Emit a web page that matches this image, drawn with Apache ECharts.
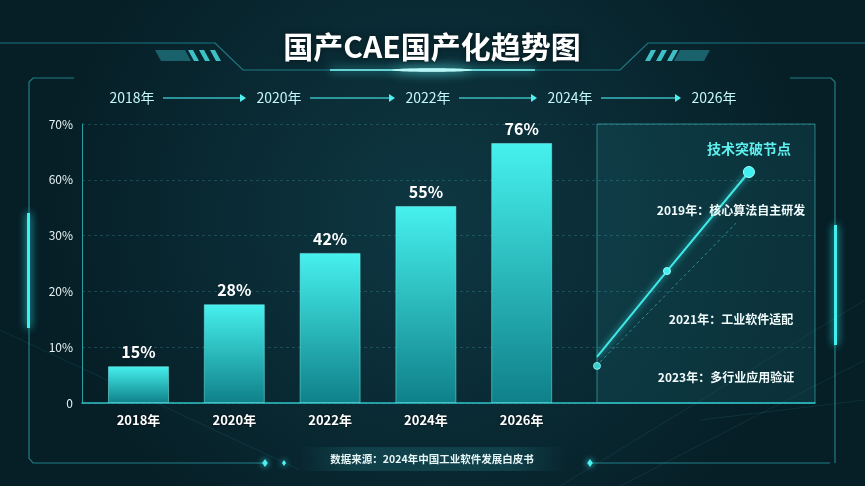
<!DOCTYPE html>
<html>
<head>
<meta charset="utf-8">
<script src="https://cdn.jsdelivr.net/npm/echarts/dist/echarts.min.js"></script>
<style>
html,body{margin:0;padding:0;background:#082a33;}
#c{width:865px;height:486px;}
</style>
</head>
<body>
<div id="c"></div>
<script>
// ---- data ----
const titleText = '国产CAE国产化趋势图';
const categories = ['2018年', '2020年', '2022年', '2024年', '2026年'];
const barLabels = ['15%', '28%', '42%', '55%', '76%'];
// bar heights as drawn, measured in y-axis tick steps
const barHeights = [0.66, 1.77, 2.69, 3.53, 4.66];
const yTickLabels = ['0', '10%', '20%', '30%', '60%', '70%'];
const timelineYears = ['2018年', '2020年', '2022年', '2024年', '2026年'];
const milestoneTitle = '技术突破节点';
const milestones = ['2019年：核心算法自主研发', '2021年：工业软件适配', '2023年：多行业应用验证'];
// milestone trend line in panel units (0-100)
const milestoneLine = [[0, 16.5], [32.1, 47.3], [69.7, 82.8]];
const milestoneDash = [[1.4, 14.7], [63.8, 64.5]];
const milestoneStart = [[0, 13.3]];
const sourceText = '数据来源：2024年中国工业软件发展白皮书';

const FONT = '"Noto Sans CJK SC", "Noto Sans", sans-serif';
const chart = echarts.init(document.getElementById('c'), null, {renderer: 'canvas'});

const graphics = [];

// background beams
[[[560, 486], [865, 300]], [[620, 486], [865, 360]], [[0, 330], [300, 470]], [[700, 420], [865, 400]]].forEach(p => {
  graphics.push({type: 'polyline', shape: {points: p}, style: {stroke: 'rgba(80,220,230,0.10)', lineWidth: 1}, z: -5});
});

// title frame
graphics.push({type: 'polyline', shape: {points: [[0, 43], [215, 43], [243, 70], [620, 70], [648, 43], [865, 43]]},
  style: {stroke: 'rgba(50,190,200,0.55)', lineWidth: 1.2}});
graphics.push({type: 'polyline', shape: {points: [[330, 70], [535, 70]]},
  style: {stroke: '#7ff6f6', lineWidth: 1.5, shadowBlur: 10, shadowColor: '#5ff'}});
graphics.push({type: 'ellipse', shape: {cx: 432, cy: 70, rx: 40, ry: 2}, style: {fill: 'rgba(200,255,255,0.8)', shadowBlur: 12, shadowColor: '#6ff'}});
// stripes left
graphics.push({type: 'polygon', shape: {points: [[155, 50], [185, 50], [191, 61], [161, 61]]}, style: {fill: 'rgba(40,150,160,0.55)'}});
[0, 1, 2].forEach(i => {
  const x = 188 + i * 11;
  graphics.push({type: 'polygon', shape: {points: [[x, 50], [x + 5, 50], [x + 11, 61], [x + 6, 61]]}, style: {fill: 'rgba(70,220,225,0.85)'}});
});
// stripes right
[0, 1, 2].forEach(i => {
  const x = 645 + i * 11;
  graphics.push({type: 'polygon', shape: {points: [[x + 6, 50], [x + 11, 50], [x + 5, 61], [x, 61]]}, style: {fill: 'rgba(70,220,225,0.85)'}});
});
graphics.push({type: 'polygon', shape: {points: [[680, 50], [710, 50], [704, 61], [674, 61]]}, style: {fill: 'rgba(40,150,160,0.55)'}});

graphics.push({type: 'text', style: {text: titleText, x: 432, y: 47, fill: '#ffffff', fontSize: 30, fontWeight: 'bold',
  fontFamily: FONT, align: 'center', verticalAlign: 'middle', textShadowBlur: 6, textShadowColor: 'rgba(0,0,0,0.5)'}});

// outer frame
graphics.push({type: 'polyline', shape: {points: [[74, 78], [33, 78], [29, 82], [29, 458], [33, 463], [265, 463]]},
  style: {stroke: 'rgba(50,190,200,0.6)', lineWidth: 1.2}});
graphics.push({type: 'polyline', shape: {points: [[790, 78], [831, 78], [835, 82], [835, 463]]},
  style: {stroke: 'rgba(50,190,200,0.6)', lineWidth: 1.2}});
graphics.push({type: 'polyline', shape: {points: [[590, 463], [830, 463]]},
  style: {stroke: 'rgba(50,190,200,0.6)', lineWidth: 1.2}});
graphics.push({type: 'rect', shape: {x: 27, y: 213, width: 3, height: 115}, style: {fill: '#3ff0f0', shadowBlur: 8, shadowColor: '#3ff'}});
graphics.push({type: 'rect', shape: {x: 834, y: 225, width: 3, height: 120}, style: {fill: '#3ff0f0', shadowBlur: 8, shadowColor: '#3ff'}});
[[265, 463, 4], [284, 463, 3], [590, 463, 4]].forEach(d => {
  graphics.push({type: 'polygon', shape: {points: [[d[0], d[1] - d[2]], [d[0] + d[2] * 0.7, d[1]], [d[0], d[1] + d[2]], [d[0] - d[2] * 0.7, d[1]]]},
    style: {fill: '#4ff2f2', shadowBlur: 6, shadowColor: '#4ff'}});
});

// timeline
const tlX = [132, 279, 428, 570, 714];
timelineYears.forEach((t, i) => {
  graphics.push({type: 'text', style: {text: t, x: tlX[i], y: 98, fill: '#c4f7f7', fontSize: 14, fontFamily: FONT,
    align: 'center', verticalAlign: 'middle'}});
  if (i < timelineYears.length - 1) {
    const x1 = tlX[i] + 31, x2 = tlX[i + 1] - 33;
    graphics.push({type: 'polyline', shape: {points: [[x1, 98], [x2 - 4, 98]]}, style: {stroke: 'rgba(70,220,225,0.8)', lineWidth: 1.3}});
    graphics.push({type: 'polygon', shape: {points: [[x2 - 6, 94], [x2, 98], [x2 - 6, 102]]}, style: {fill: '#4ff0f0'}});
  }
});

// right panel
graphics.push({type: 'rect', shape: {x: 597, y: 124, width: 218, height: 279},
  style: {fill: 'rgba(25,100,110,0.28)', stroke: 'rgba(70,210,210,0.55)', lineWidth: 1}, z: -1});
graphics.push({type: 'text', style: {text: milestoneTitle, x: 749, y: 149, fill: '#5ef0ee', fontSize: 14, fontWeight: 'bold',
  fontFamily: FONT, align: 'center', verticalAlign: 'middle'}});
const msPos = [[731, 210], [731, 319], [726, 377]];
milestones.forEach((m, i) => {
  graphics.push({type: 'text', z: 10, style: {text: m, x: msPos[i][0], y: msPos[i][1], fill: '#f0fbfb', fontSize: 12,
    fontWeight: 'bold', fontFamily: FONT, align: 'center', verticalAlign: 'middle'}});
});

// footer
graphics.push({type: 'rect', shape: {x: 300, y: 447, width: 264, height: 24},
  style: {fill: {type: 'linear', x: 0, y: 0, x2: 1, y2: 0, colorStops: [
    {offset: 0, color: 'rgba(30,110,120,0)'}, {offset: 0.2, color: 'rgba(30,110,120,0.35)'},
    {offset: 0.8, color: 'rgba(30,110,120,0.35)'}, {offset: 1, color: 'rgba(30,110,120,0)'}]}}});
graphics.push({type: 'text', style: {text: sourceText, x: 432, y: 459, fill: '#e6f6f6', fontSize: 10.5, fontWeight: 'bold',
  fontFamily: FONT, align: 'center', verticalAlign: 'middle'}});

const option = {
  backgroundColor: {type: 'radial', x: 0.5, y: 0.45, r: 0.8, colorStops: [
    {offset: 0, color: '#0e3843'}, {offset: 1, color: '#061e26'}]},
  animation: false,
  textStyle: {fontFamily: FONT},
  grid: [
    {left: 82, right: 50, top: 124, bottom: 83},
    {left: 90.6, width: 479, top: 124, bottom: 83},
    {left: 597, right: 50, top: 124, bottom: 83}
  ],
  xAxis: [
    {gridIndex: 0, type: 'value', min: 0, max: 1, axisLabel: {show: false}, axisTick: {show: false}, splitLine: {show: false},
      axisLine: {show: true, lineStyle: {color: '#2fc2c8', width: 1.5}}},
    {gridIndex: 1, type: 'category', data: categories, axisLine: {show: false}, axisTick: {show: false},
      axisLabel: {color: '#ffffff', fontSize: 13, fontWeight: 'bold', margin: 11, fontFamily: FONT,
        textShadowBlur: 3, textShadowColor: 'rgba(0,0,0,0.6)'}},
    {gridIndex: 2, type: 'value', min: 0, max: 100, show: false}
  ],
  yAxis: [
    {gridIndex: 0, type: 'value', min: 0, max: 5, interval: 1,
      axisLabel: {color: '#e6f3f3', fontSize: 12, margin: 9, formatter: v => yTickLabels[v] ?? ''},
      axisLine: {show: true, lineStyle: {color: '#2a9ea5', width: 1}}, axisTick: {show: false},
      splitLine: {show: true, lineStyle: {color: 'rgba(80,170,180,0.28)', type: [3, 3]}}},
    {gridIndex: 1, type: 'value', min: 0, max: 5, show: false},
    {gridIndex: 2, type: 'value', min: 0, max: 100, show: false}
  ],
  series: [
    {type: 'bar', xAxisIndex: 1, yAxisIndex: 1, data: barHeights, barWidth: 61,
      itemStyle: {
        color: {type: 'linear', x: 0, y: 0, x2: 0, y2: 1, colorStops: [
          {offset: 0, color: '#46f1ee'}, {offset: 1, color: '#0f8089'}]},
        borderColor: 'rgba(120,240,240,0.5)', borderWidth: 1
      },
      label: {show: true, position: 'top', distance: 6, color: '#ffffff', fontSize: 16, fontWeight: 'bold',
        fontFamily: FONT, formatter: p => barLabels[p.dataIndex]}},
    {type: 'line', xAxisIndex: 2, yAxisIndex: 2, data: milestoneDash, symbol: 'none',
      lineStyle: {color: 'rgba(70,200,200,0.6)', width: 1, type: [3, 3]}},
    {type: 'line', xAxisIndex: 2, yAxisIndex: 2, data: [
        {value: milestoneLine[0], symbol: 'none'},
        {value: milestoneLine[1], symbolSize: 7},
        {value: milestoneLine[2], symbolSize: 11}],
      symbol: 'circle', itemStyle: {color: '#3ff0ee', borderColor: '#a0ffff', borderWidth: 1},
      lineStyle: {color: '#3fe8e6', width: 2, shadowBlur: 6, shadowColor: 'rgba(60,240,240,0.8)'}},
    {type: 'scatter', xAxisIndex: 2, yAxisIndex: 2, data: milestoneStart, symbolSize: 7,
      itemStyle: {color: '#3ff0ee', borderColor: '#a0ffff', borderWidth: 1}}
  ],
  graphic: graphics
};
chart.setOption(option);
</script>
</body>
</html>
